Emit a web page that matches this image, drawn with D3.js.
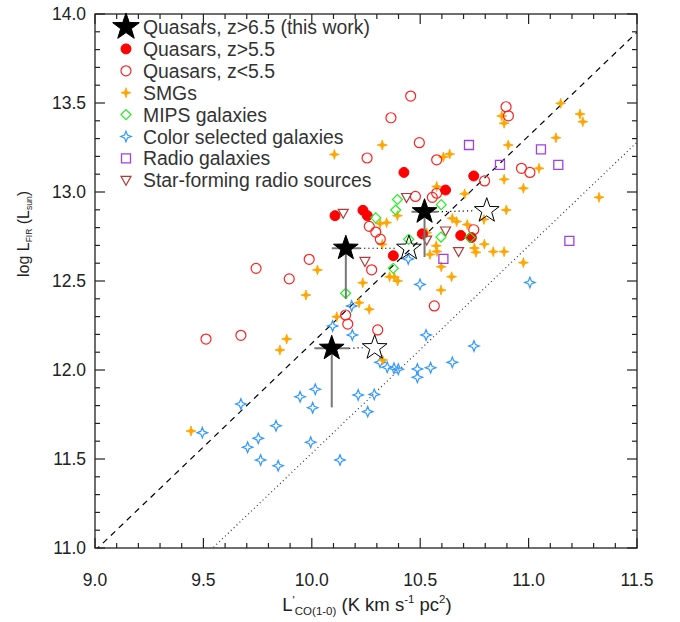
<!DOCTYPE html>
<html>
<head>
<meta charset="utf-8">
<script src="https://cdn.jsdelivr.net/npm/d3@7"></script>
<style>
  body { margin: 0; background: #fff; }
  text { font-family: "Liberation Sans", Arial, Helvetica, sans-serif; }
</style>
</head>
<body>
<svg class="display"></svg>
<script>
// log L'CO vs log LFIR, one [x, y] pair per source
const thisWork = [[10.092, 12.122], [10.157, 12.684], [10.520, 12.889]];
const thisWorkOpen = [[10.290, 12.125], [10.448, 12.684], [10.807, 12.895]];
const thisWorkLow = [11.79, 12.40, 12.635];
const thisWorkXerr = [0.08, 0.065, 0.06];

const qsoHighZ = [
  [10.425, 13.110], [10.747, 13.090], [10.617, 13.011], [10.107, 12.867], [10.236, 12.897],
  [10.256, 12.867], [10.510, 12.765], [10.687, 12.756], [10.736, 12.744], [10.376, 12.642]
];

const qsoLowZ = [
  [10.456, 13.539], [10.365, 13.417], [10.496, 13.277], [10.255, 13.191], [10.576, 13.181],
  [10.896, 13.479], [10.907, 13.428], [10.967, 13.133], [11.006, 13.110], [10.797, 13.062],
  [10.478, 12.975], [10.556, 12.970], [10.576, 12.993], [10.265, 12.807], [10.295, 12.775],
  [10.316, 12.735], [10.747, 12.788], [9.988, 12.622], [10.276, 12.563], [9.896, 12.512],
  [9.743, 12.571], [9.512, 12.174], [9.673, 12.195], [10.156, 12.309], [10.166, 12.258],
  [10.304, 12.225], [10.565, 12.360]
];

const smgs = [
  [10.325, 13.264], [10.104, 13.211], [10.607, 13.197], [10.636, 13.213], [10.876, 13.427],
  [10.887, 13.386], [10.906, 13.264], [10.887, 13.071], [10.976, 13.021], [10.576, 13.031],
  [10.705, 12.990], [10.395, 12.867], [10.315, 12.823], [10.345, 12.828], [10.648, 12.852],
  [10.668, 12.834], [10.717, 12.817], [10.897, 12.899], [10.796, 12.707], [10.837, 12.665],
  [10.887, 12.665], [10.750, 12.685], [10.757, 12.661], [10.574, 12.698], [10.577, 12.666],
  [10.545, 12.649], [10.325, 12.706], [10.026, 12.562], [10.359, 12.524], [10.381, 12.522],
  [10.597, 12.580], [10.645, 12.524], [10.530, 12.771], [11.048, 13.133], [10.976, 12.603],
  [11.325, 12.970], [10.794, 12.846], [11.148, 13.498], [11.237, 13.438], [11.250, 13.395],
  [11.126, 13.305], [10.235, 12.490], [10.396, 12.500], [10.596, 12.449], [9.973, 12.421],
  [10.218, 12.378], [10.265, 12.341], [10.115, 12.299], [9.884, 12.174], [9.853, 12.112],
  [10.327, 12.056], [9.443, 11.657]
];

const mips = [
  [10.395, 12.958], [10.387, 12.899], [10.295, 12.855], [10.597, 12.929], [10.447, 12.734],
  [10.596, 12.747], [10.730, 12.744], [10.376, 12.571], [10.156, 12.431]
];

const colorSelected = [
  [9.495, 11.648], [9.673, 11.809], [9.704, 11.566], [9.753, 11.616], [9.764, 11.494],
  [9.835, 11.687], [9.845, 11.462], [9.946, 11.850], [10.004, 11.788], [10.016, 11.892],
  [9.995, 11.594], [10.445, 12.624], [10.499, 12.481], [10.184, 12.360], [10.096, 12.247],
  [10.187, 12.197], [10.527, 12.197], [10.748, 12.135], [10.315, 12.043], [10.348, 12.015],
  [10.379, 12.010], [10.399, 12.004], [10.487, 12.006], [10.487, 11.959], [10.548, 12.013],
  [10.648, 12.043], [10.214, 11.860], [10.288, 11.863], [10.258, 11.766], [11.006, 12.492],
  [10.130, 11.494]
];

const radioGalaxies = [
  [10.725, 13.264], [10.868, 13.152], [11.057, 13.239], [11.137, 13.152], [11.188, 12.725],
  [10.607, 12.624]
];

const sfRadio = [
  [10.145, 12.880], [10.437, 12.969], [10.617, 12.781], [10.530, 12.730], [10.677, 12.665],
  [10.245, 12.610]
];

// the two relations drawn across the panel: slope, intercept
const relations = [
  {slope: 1.165, intercept: 0.50, dash: '6,5', color: '#000'},
  {slope: 1.165, intercept: -0.118, dash: '1,3', color: '#333'}
];

const xTicks = [9.0, 9.5, 10.0, 10.5, 11.0, 11.5];
const yTicks = [11.0, 11.5, 12.0, 12.5, 13.0, 13.5, 14.0];

const legendLabels = [
  'Quasars, z>6.5 (this work)', 'Quasars, z>5.5', 'Quasars, z<5.5', 'SMGs',
  'MIPS galaxies', 'Color selected galaxies', 'Radio galaxies', 'Star-forming radio sources'
];

const width = 680;
const height = 622;
const margin = {left: 95, top: 14, right: 43, bottom: 74};

const svg = d3.select('.display')
  .attr('width', width)
  .attr('height', height);

const x = d3.scaleLinear().domain([9.0, 11.5]).range([margin.left, width - margin.right]);
const y = d3.scaleLinear().domain([11.0, 14.0]).range([height - margin.bottom, margin.top]);

// marker shapes
function starPath(n, R, r) {
  const pts = [];
  for (let i = 0; i < 2 * n; i++) {
    const a = -Math.PI / 2 + i * Math.PI / n;
    const rr = i % 2 ? r : R;
    pts.push([rr * Math.cos(a), rr * Math.sin(a)]);
  }
  return 'M' + pts.map(p => p[0].toFixed(2) + ',' + p[1].toFixed(2)).join('L') + 'Z';
}
const diamond = 'M0,-5L5,0L0,5L-5,0Z';
const square = 'M-4.5,-4.5L4.5,-4.5L4.5,4.5L-4.5,4.5Z';
const triDown = 'M-5,-4L5,-4L0,5Z';

const styles = {
  thisWork: {d: starPath(5, 13, 5.2), fill: '#000', stroke: '#000', sw: 1},
  qsoHighZ: {circle: true, fill: '#ff0000', stroke: '#ff0000', sw: 1},
  qsoLowZ: {circle: true, fill: 'none', stroke: '#ff2020', sw: 1.2},
  smgs: {d: starPath(4, 5, 1.7), fill: '#ffa500', stroke: '#ffa500', sw: 0.8},
  mips: {d: diamond, fill: 'none', stroke: '#22ee22', sw: 1.2},
  colorSelected: {d: starPath(4, 5.3, 2.1), fill: 'none', stroke: '#3399ff', sw: 1.2},
  radioGalaxies: {d: square, fill: 'none', stroke: '#a040e8', sw: 1.3},
  sfRadio: {d: triDown, fill: 'none', stroke: '#b03a3a', sw: 1.2}
};

svg.append('clipPath').attr('id', 'plotclip')
  .append('rect')
  .attr('x', margin.left).attr('y', margin.top)
  .attr('width', width - margin.left - margin.right)
  .attr('height', height - margin.top - margin.bottom);

// relation lines
svg.append('g').attr('clip-path', 'url(#plotclip)')
  .selectAll('line')
  .data(relations)
  .enter().append('line')
    .attr('x1', x(9.0)).attr('y1', d => y(d.slope * 9.0 + d.intercept))
    .attr('x2', x(11.5)).attr('y2', d => y(d.slope * 11.5 + d.intercept))
    .attr('stroke', d => d.color)
    .attr('stroke-width', 1.2)
    .attr('stroke-dasharray', d => d.dash);

function drawMarks(data, st) {
  const g = svg.append('g');
  if (st.circle) {
    g.selectAll('circle').data(data).enter().append('circle')
      .attr('cx', d => x(d[0])).attr('cy', d => y(d[1])).attr('r', 5)
      .attr('fill', st.fill).attr('stroke', st.stroke).attr('stroke-width', st.sw);
  } else {
    g.selectAll('path').data(data).enter().append('path')
      .attr('d', st.d)
      .attr('transform', d => 'translate(' + x(d[0]) + ',' + y(d[1]) + ')')
      .attr('fill', st.fill).attr('stroke', st.stroke).attr('stroke-width', st.sw);
  }
}

drawMarks(colorSelected, styles.colorSelected);
drawMarks(smgs, styles.smgs);
drawMarks(qsoLowZ, styles.qsoLowZ);
drawMarks(qsoHighZ, styles.qsoHighZ);
drawMarks(radioGalaxies, styles.radioGalaxies);
drawMarks(sfRadio, styles.sfRadio);
drawMarks(mips, styles.mips);

// this work: error bars, connectors and open stars
const ew = svg.append('g');
ew.selectAll('line.v').data(thisWork).enter().append('line')
  .attr('x1', d => x(d[0])).attr('x2', d => x(d[0]))
  .attr('y1', d => y(d[1])).attr('y2', (d, i) => y(thisWorkLow[i]))
  .attr('stroke', '#777').attr('stroke-width', 2);
ew.selectAll('line.h').data(thisWork).enter().append('line')
  .attr('x1', (d, i) => x(d[0] - thisWorkXerr[i])).attr('x2', (d, i) => x(d[0] + thisWorkXerr[i]))
  .attr('y1', d => y(d[1])).attr('y2', d => y(d[1]))
  .attr('stroke', '#777').attr('stroke-width', 2);
ew.selectAll('line.c').data(thisWork).enter().append('line')
  .attr('x1', (d, i) => x(d[0] + thisWorkXerr[i])).attr('x2', (d, i) => x(thisWorkOpen[i][0]) - 12)
  .attr('y1', d => y(d[1])).attr('y2', (d, i) => y(thisWorkOpen[i][1]))
  .attr('stroke', '#000').attr('stroke-width', 1.2).attr('stroke-dasharray', '1.2,3');

drawMarks(thisWorkOpen, {d: starPath(5, 13, 5.2), fill: 'none', stroke: '#000', sw: 1});
drawMarks(thisWork, styles.thisWork);

// frame and ticks on all four sides
svg.append('rect')
  .attr('x', margin.left).attr('y', margin.top)
  .attr('width', width - margin.left - margin.right)
  .attr('height', height - margin.top - margin.bottom)
  .attr('fill', 'none').attr('stroke', '#222').attr('stroke-width', 1.3);

const xMinor = d3.range(9.0, 11.5001, 0.1);
const yMinor = d3.range(11.0, 14.0001, 0.1);
const isMajor = v => Math.abs(v * 2 - Math.round(v * 2)) < 1e-6;

const tg = svg.append('g').attr('stroke', '#222').attr('stroke-width', 1.2);
xMinor.forEach(v => {
  const len = isMajor(v) ? 10 : 5;
  tg.append('line').attr('x1', x(v)).attr('x2', x(v)).attr('y1', y(11)).attr('y2', y(11) - len);
  tg.append('line').attr('x1', x(v)).attr('x2', x(v)).attr('y1', y(14)).attr('y2', y(14) + len);
});
yMinor.forEach(v => {
  const len = isMajor(v) ? 10 : 5;
  tg.append('line').attr('y1', y(v)).attr('y2', y(v)).attr('x1', x(9)).attr('x2', x(9) + len);
  tg.append('line').attr('y1', y(v)).attr('y2', y(v)).attr('x1', x(11.5)).attr('x2', x(11.5) - len);
});

svg.append('g').selectAll('text').data(xTicks).enter().append('text')
  .attr('x', d => x(d)).attr('y', height - margin.bottom + 38)
  .attr('text-anchor', 'middle').attr('font-size', 17.5).attr('fill', '#222')
  .text(d => d.toFixed(1));

svg.append('g').selectAll('text').data(yTicks).enter().append('text')
  .attr('x', margin.left - 9).attr('y', d => y(d) + 6)
  .attr('text-anchor', 'end').attr('font-size', 17.5).attr('fill', '#222')
  .text(d => d.toFixed(1));

// axis titles
const xt = svg.append('text')
  .attr('x', 367).attr('y', 611)
  .attr('text-anchor', 'middle').attr('font-size', 18.5).attr('fill', '#222');
xt.append('tspan').text('L');
xt.append('tspan').attr('font-size', 11.5).attr('dy', -7).text("'");
xt.append('tspan').attr('font-size', 11.5).attr('dy', 11).text('CO(1-0)');
xt.append('tspan').attr('dy', -4).text(' (K km s');
xt.append('tspan').attr('font-size', 11.5).attr('dy', -8).text('-1');
xt.append('tspan').attr('dy', 8).text(' pc');
xt.append('tspan').attr('font-size', 11.5).attr('dy', -8).text('2');
xt.append('tspan').attr('dy', 8).text(')');

const yt = svg.append('text')
  .attr('transform', 'translate(29,234) rotate(-90)')
  .attr('text-anchor', 'middle').attr('font-size', 16).attr('fill', '#222');
yt.append('tspan').text('log L');
yt.append('tspan').attr('font-size', 8.5).attr('dy', 3).text('FIR');
yt.append('tspan').attr('dy', -3).text(' (L');
yt.append('tspan').attr('font-size', 8.5).attr('dy', 3).text('sun');
yt.append('tspan').attr('dy', -3).text(')');

// legend
const legendStyles = [
  {d: starPath(5, 14, 5.6), fill: '#000', stroke: '#000', sw: 1},
  styles.qsoHighZ, styles.qsoLowZ, styles.smgs, styles.mips,
  styles.colorSelected, styles.radioGalaxies, styles.sfRadio
];
const lg = svg.append('g').selectAll('g').data(legendLabels).enter().append('g')
  .attr('transform', (d, i) => 'translate(0,' + (27 + i * 21.9) + ')');
lg.each(function(d, i) {
  const st = legendStyles[i];
  const g = d3.select(this);
  if (st.circle) {
    g.append('circle').attr('cx', 126).attr('cy', 0).attr('r', 5)
      .attr('fill', st.fill).attr('stroke', st.stroke).attr('stroke-width', st.sw);
  } else {
    g.append('path').attr('d', st.d).attr('transform', 'translate(126,0)')
      .attr('fill', st.fill).attr('stroke', st.stroke).attr('stroke-width', st.sw);
  }
});
lg.append('text')
  .attr('x', 143).attr('y', 7)
  .attr('font-size', 19.4).attr('fill', '#333')
  .text(d => d);
</script>
</body>
</html>
